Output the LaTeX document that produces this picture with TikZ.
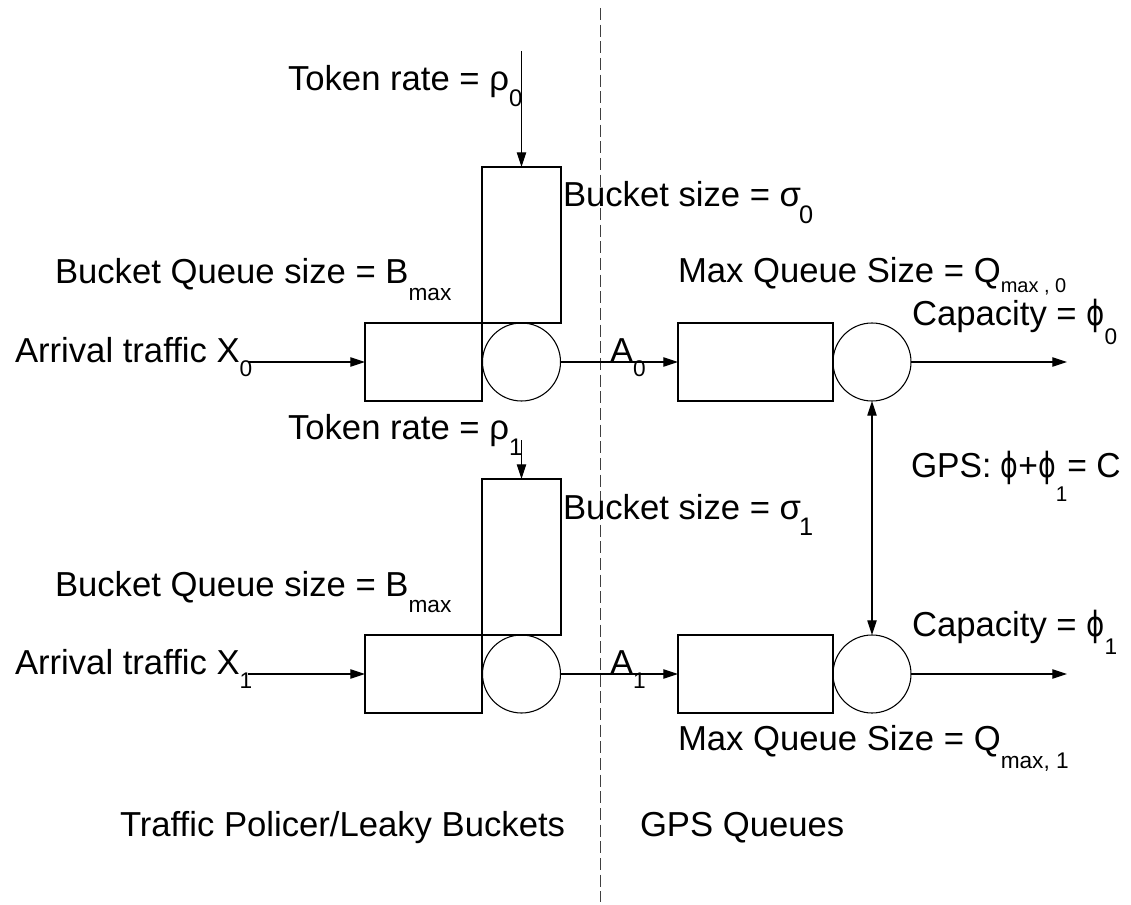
\documentclass[tikz,border=0pt]{standalone}
\usepackage{graphicx}
\usepackage{fontspec}
\setmainfont{Liberation Sans}
\newfontfamily\symfont{DejaVu Sans}
\usetikzlibrary{arrows.meta}
% lowered, smaller index: #1 = drop, #2 = font size, #3 = text
\newcommand\lowsub[3]{\raisebox{-#1}{\fontsize{#2}{#2}\selectfont #3}}
% narrow stroked phi
\newcommand\phin{\scalebox{0.8}[1]{\symfont ϕ}}
\begin{document}
\begin{tikzpicture}[x=0.75pt,y=-0.75pt,
  font=\fontsize{26}{30}\selectfont,
  lbl/.style={anchor=base west, inner sep=0pt, outer sep=0pt},
  outline/.style={draw, line width=0.8pt, inner sep=0pt, outer sep=0pt},
  bucketq/.style={outline, minimum width=87.75pt, minimum height=58.5pt},
  bucket/.style={outline, minimum width=59.25pt, minimum height=117pt},
  gpsq/.style={outline, minimum width=116.25pt, minimum height=58.5pt},
  server/.style={outline, circle, minimum size=58.5pt},
  flow/.style={line width=0.8pt, -{Triangle[length=11pt,width=7pt]}},
  twoway/.style={line width=0.8pt, {Triangle[length=11pt,width=7pt]}-{Triangle[length=11pt,width=7pt]}},
  divider/.style={line width=0.7pt, black!75, dash pattern=on 9pt off 3.5pt}]
\useasboundingbox (0,0) rectangle (1131,905);

% separation between policer and scheduler
\coordinate (divtop) at (600,8);
\coordinate (divbot) at (600,902);
\draw[divider] (divtop) -- (divbot);

% ---- flow 0 ----
\node[bucket]  (bt0) at (521.5,245) {};
\node[bucketq] (bq0) at (423.5,362) {};
\node[server]  (bs0) at (521.5,362) {};
\node[gpsq]    (gq0) at (755.5,362) {};
\node[server]  (gs0) at (872,362) {};
\coordinate (tr0) at (521.5,51);
\coordinate (in0) at (248,362);
\coordinate (out0) at (1067,362);

\draw[flow] (tr0) -- (bt0.north);
\draw[flow] (in0) -- (bq0.west);
\draw[flow] (bs0.east) -- (gq0.west);
\draw[flow] (gs0.east) -- (out0);

% ---- flow 1 ----
\node[bucket]  (bt1) at (521.5,557) {};
\node[bucketq] (bq1) at (423.5,674) {};
\node[server]  (bs1) at (521.5,674) {};
\node[gpsq]    (gq1) at (755.5,674) {};
\node[server]  (gs1) at (872,674) {};
\coordinate (tr1) at (521.5,440);
\coordinate (in1) at (248,674);
\coordinate (out1) at (1067,674);

\draw[flow] (tr1) -- (bt1.north);
\draw[flow] (in1) -- (bq1.west);
\draw[flow] (bs1.east) -- (gq1.west);
\draw[flow] (gs1.east) -- (out1);

% capacity sharing between the two GPS servers
\draw[twoway] (gs0.south) -- (gs1.north);

% ---- labels ----
\node[lbl] (l1)  at (288,91)  {Token rate = ρ\lowsub{12pt}{18}{0}};
\node[lbl] (l2)  at (563,207) {Bucket size = σ\kern-1.5pt\lowsub{12.5pt}{19}{0}};
\node[lbl] (l3)  at (55,284)  {Bucket Queue size = B\lowsub{12.5pt}{17}{max}};
\node[lbl] (l4)  at (678,283) {Max Queue Size = Q\lowsub{7.5pt}{15}{max , 0}};
\node[lbl] (l5)  at (912,326) {Capacity = \phin\lowsub{14pt}{17}{0}};
\node[lbl] (l6)  at (15,363)  {Arrival traffic X\lowsub{10.5pt}{17}{0}};
\node[lbl] (l7)  at (610,363) {A\lowsub{10.5pt}{17}{0}};
\node[lbl] (l8)  at (288,439) {Token rate = ρ\lowsub{12pt}{18}{1}};
\node[lbl] (l9)  at (563,519) {Bucket size = σ\kern-1.5pt\lowsub{12.5pt}{19}{1}};
\node[lbl] (l10) at (911,477) {\scalebox{0.97}[1]{GPS: \phin+\phin\lowsub{18pt}{16}{1}= C}};
\node[lbl] (l11) at (55,596)  {Bucket Queue size = B\lowsub{12.5pt}{17}{max}};
\node[lbl] (l12) at (912,636) {Capacity = \phin\lowsub{13.5pt}{17}{1}};
\node[lbl] (l13) at (15,674)  {Arrival traffic X\lowsub{10.5pt}{17}{1}};
\node[lbl] (l14) at (610,674) {A\lowsub{10.5pt}{17}{1}};
\node[lbl] (l15) at (678,750) {Max Queue Size = Q\lowsub{13.5pt}{17}{max, 1}};
\node[lbl] (l16) at (120,836) {Traffic Policer/Leaky Buckets};
\node[lbl] (l17) at (640,836) {GPS Queues};
\end{tikzpicture}
\end{document}
